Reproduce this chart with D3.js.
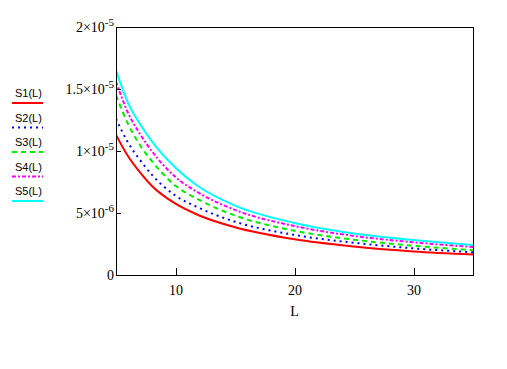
<!DOCTYPE html>
<html>
<head>
<meta charset="utf-8">
<script src="https://cdn.jsdelivr.net/npm/d3@7"></script>
<style>
html,body{margin:0;padding:0;background:#fff;}
svg{display:block;}
</style>
</head>
<body>
<svg id="chart" width="507" height="369"></svg>
<script>
// ---- data (values in units of 1e-6) ----
const L  = [5, 6, 7, 8, 10, 12, 15, 20, 25, 30, 35];
const S1 = [11.3, 9.6, 8.3, 7.2, 5.75, 4.8, 3.85, 2.88, 2.3, 1.9, 1.66];
const S2 = [12.6, 10.7, 9.3, 8.1, 6.4, 5.4, 4.3, 3.23, 2.6, 2.15, 1.83];
const S3 = [14.5, 12.2, 10.5, 9.2, 7.2, 6.05, 4.8, 3.57, 2.85, 2.36, 2.0];
const S4 = [15.6, 13.1, 11.4, 10.0, 7.9, 6.6, 5.25, 3.95, 3.15, 2.64, 2.26];
const S5 = [16.5, 13.9, 12.2, 10.8, 8.65, 7.1, 5.6, 4.2, 3.35, 2.82, 2.42];
const seriesNames = ["S1(L)", "S2(L)", "S3(L)", "S4(L)", "S5(L)"];
const seriesColors = ["#ff0000", "#0000ff", "#00ee00", "#ff00ff", "#00ffff"];
const seriesDash = [null, "2,4", "5,4", "4,2,2,2", null];
const xTicks = [10, 20, 30];
const yTicks = [0, 5, 10, 15, 20];
const yTickLabels = [["0", ""], ["5×10", "-6"], ["1×10", "-5"], ["1.5×10", "-5"], ["2×10", "-5"]];
const xLabel = "L";

const allSeries = [S1, S2, S3, S4, S5];

const svg = d3.select("#chart");
const m = {left: 116, right: 473, top: 27, bottom: 275};
const x = d3.scaleLinear().domain([5, 35]).range([m.left, m.right]);
const y = d3.scaleLinear().domain([0, 20]).range([m.bottom, m.top]);

const serif = "'Liberation Serif','Times New Roman',serif";
const sans = "'Liberation Sans',Arial,sans-serif";

// clip
svg.append("defs").append("clipPath").attr("id", "clip")
  .append("rect").attr("x", m.left).attr("y", m.top)
  .attr("width", m.right - m.left).attr("height", m.bottom - m.top);

// lines
const line = d3.line().x((d, i) => x(L[i])).y(d => y(d)).curve(d3.curveMonotoneX);
const plot = svg.append("g").attr("clip-path", "url(#clip)");
allSeries.forEach((s, k) => {
  plot.append("path").datum(s)
    .attr("d", line)
    .attr("fill", "none")
    .attr("stroke", seriesColors[k])
    .attr("stroke-width", 2)
    .attr("stroke-dasharray", seriesDash[k]);
});

// frame
svg.append("rect").attr("x", m.left).attr("y", m.top)
  .attr("width", m.right - m.left).attr("height", m.bottom - m.top)
  .attr("fill", "none").attr("stroke", "#000").attr("stroke-width", 1)
  .attr("shape-rendering", "crispEdges");

// x axis ticks (inward) and labels
const xAxis = d3.axisBottom(x).tickValues(xTicks).tickSize(-7).tickPadding(10).tickFormat(d3.format("d"));
const gx = svg.append("g").attr("transform", `translate(0,${m.bottom})`).call(xAxis);
gx.select(".domain").remove();
gx.selectAll("line").attr("shape-rendering", "crispEdges");
gx.selectAll("text").attr("font-family", serif).attr("font-size", 14).attr("fill", "#000");

// y axis ticks (inward)
const yAxis = d3.axisLeft(y).tickValues(yTicks).tickSize(-5).tickFormat("");
const gy = svg.append("g").attr("transform", `translate(${m.left},0)`).call(yAxis);
gy.select(".domain").remove();
gy.selectAll("line").attr("shape-rendering", "crispEdges");

// y tick labels with superscripts
yTicks.forEach((v, i) => {
  const t = svg.append("text")
    .attr("x", 114).attr("y", y(v) + 5)
    .attr("text-anchor", "end")
    .attr("font-family", serif).attr("font-size", 14).attr("fill", "#000");
  t.append("tspan").text(yTickLabels[i][0]);
  if (yTickLabels[i][1]) {
    t.append("tspan").attr("dy", -6).attr("font-size", 11).text(yTickLabels[i][1]);
  }
});

// x label
svg.append("text").attr("x", x(20)).attr("y", 316)
  .attr("text-anchor", "middle").attr("font-family", serif).attr("font-size", 14)
  .text(xLabel);

// legend
seriesNames.forEach((n, k) => {
  const ty = 97 + k * 24.5;
  svg.append("text").attr("x", 15).attr("y", ty)
    .attr("font-family", sans).attr("font-size", 11).attr("fill", "#000").text(n);
  svg.append("line").attr("x1", 12).attr("x2", 43)
    .attr("y1", ty + 6).attr("y2", ty + 6)
    .attr("stroke", seriesColors[k]).attr("stroke-width", 2)
    .attr("stroke-dasharray", seriesDash[k]);
});
</script>
</body>
</html>
